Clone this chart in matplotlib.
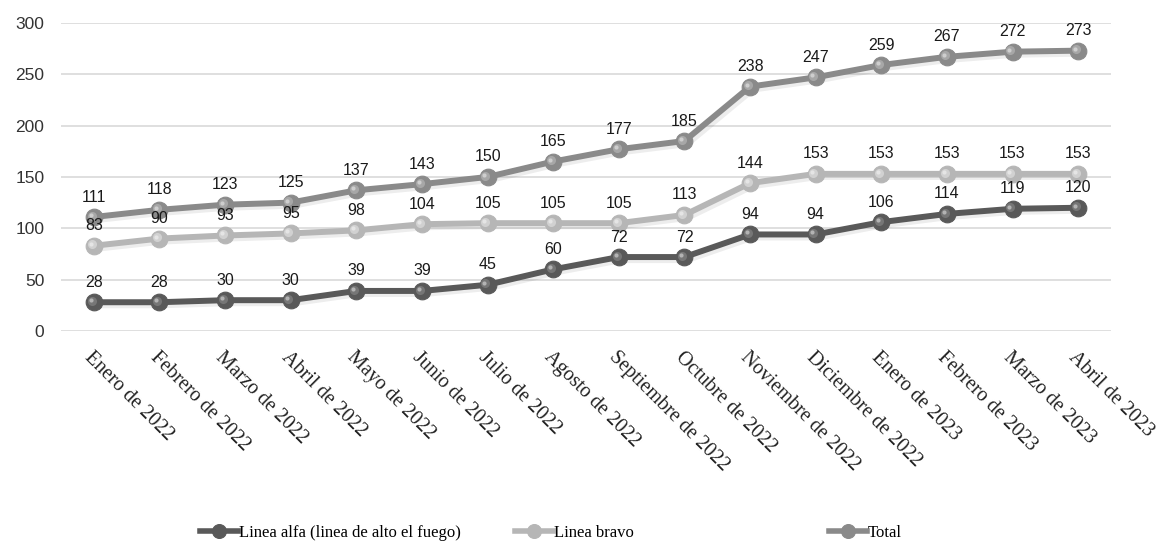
import matplotlib.pyplot as plt
import numpy as np

months = ["Enero de 2022", "Febrero de 2022", "Marzo de 2022", "Abril de 2022",
          "Mayo de 2022", "Junio de 2022", "Julio de 2022", "Agosto de 2022",
          "Septiembre de 2022", "Octubre de 2022", "Noviembre de 2022",
          "Diciembre de 2022", "Enero de 2023", "Febrero de 2023",
          "Marzo de 2023", "Abril de 2023"]
alfa = [28, 28, 30, 30, 39, 39, 45, 60, 72, 72, 94, 94, 106, 114, 119, 120]
bravo = [83, 90, 93, 95, 98, 104, 105, 105, 105, 113, 144, 153, 153, 153, 153, 153]
total = [111, 118, 123, 125, 137, 143, 150, 165, 177, 185, 238, 247, 259, 267, 272, 273]

series = [
    ("Linea alfa (linea de alto el fuego)", alfa, "#595959", "#8a8a8a"),
    ("Linea bravo", bravo, "#b6b6b6", "#e4e4e4"),
    ("Total", total, "#8a8a8a", "#bcbcbc"),
]

fig = plt.figure(figsize=(11.67, 5.46), dpi=100)
ax = fig.add_axes([0.0523, 0.3938, 0.8997, 0.5642])

x = np.arange(len(months))
handles = []
for name, vals, col, hi in series:
    v = np.array(vals)
    # soft shadow under line and markers
    ax.plot(x + 0.04, v - 2.5, color="#000000", alpha=0.07, lw=5,
            solid_capstyle="round", zorder=1)
    h, = ax.plot(x, vals, color=col, lw=4.3, marker="o", markersize=12,
                 markerfacecolor=col, markeredgecolor=col, markeredgewidth=0.8,
                 label=name, zorder=3)
    # highlight on each sphere
    ax.plot(x - 0.035, v + 1.3, ls="none", marker="o", markersize=6.5,
            markerfacecolor=hi, markeredgecolor="none", alpha=0.6, zorder=4)
    ax.plot(x - 0.05, v + 2.0, ls="none", marker="o", markersize=3,
            markerfacecolor="white", markeredgecolor="none", alpha=0.45, zorder=5)
    handles.append(h)
    for xi, val in zip(x, vals):
        ax.annotate(str(val), (xi, val), xytext=(0, 9), textcoords="offset points",
                    ha="center", va="bottom", fontsize=11.5, family="Liberation Sans",
                    color="#1a1a1a", zorder=6)

ax.set_xlim(-0.5, len(months) - 0.5)
ax.set_ylim(0, 300)
ax.set_yticks(range(0, 301, 50))
ax.yaxis.grid(True, color="#d9d9d9", lw=1.2)
ax.set_axisbelow(True)
for s in ax.spines.values():
    s.set_visible(False)
ax.tick_params(axis="both", length=0)
ax.tick_params(axis="y", pad=12, labelsize=12.5, labelcolor="#333333")
for lbl in ax.get_yticklabels():
    lbl.set_family("Liberation Sans")

ax.set_xticks(x)
ax.set_xticklabels(months, rotation=-45, ha="left", va="top",
                   rotation_mode="anchor", fontsize=14.5,
                   family="Liberation Serif", color="#222222")
ax.tick_params(axis="x", pad=12)

# legend entries laid out in equal-width slots
slots = [0.171, 0.441, 0.710]
for h, sx in zip(handles, slots):
    leg = fig.legend(handles=[h], loc="center left", frameon=False,
                     bbox_to_anchor=(sx, 0.024), borderaxespad=0, borderpad=0,
                     prop={"family": "Liberation Serif", "size": 12},
                     handlelength=2.3, handletextpad=0.05)
    for line in leg.get_lines():
        line.set_markersize(10)
        line.set_linewidth(4)

fig.savefig("out.png", dpi=100)
